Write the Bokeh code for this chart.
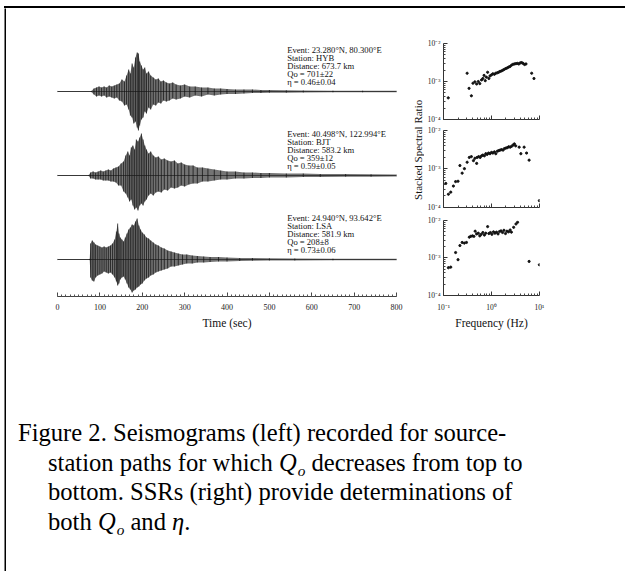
import math
from bokeh.plotting import figure
from bokeh.layouts import row, column
from bokeh.models import (Range1d, Div, Spacer, FixedTicker, CustomJSTickFormatter,
                          SingleIntervalTicker)
from bokeh.core.properties import value
from bokeh.embed import file_html
from bokeh.resources import INLINE

SERIF = "Liberation Serif"

# ---------------- data ----------------
time_ticks = [0, 100, 200, 300, 400, 500, 600, 700, 800]

stations = ["HYB", "BJT", "LSA"]
events = ["23.280°N, 80.300°E", "40.498°N, 122.994°E", "24.940°N, 93.642°E"]
distances = ["673.7", "583.2", "581.9"]
qo = ["701", "359", "208"]
qo_err = ["22", "12", "8"]
eta = ["0.46", "0.59", "0.73"]
eta_err = ["0.04", "0.05", "0.06"]

# seismogram envelopes (time in s, upper / lower amplitude, arbitrary units)
t1 = [0, 80, 86, 92, 98, 104, 110, 116, 122, 128, 134, 140, 146, 152, 158, 163, 168, 172, 176, 180,
      184, 188, 191, 194, 198, 202, 206, 210, 215, 220, 226, 232, 238, 244, 250, 257, 264, 272, 280,
      290, 300, 312, 325, 340, 355, 370, 385, 400, 420, 440, 460, 480, 500, 540, 580, 650, 720, 800]
up1 = [0.6, 0.6, 3, 4, 5, 4, 5, 4, 6, 5, 6, 7, 8, 12, 10, 16, 22, 18, 28, 24,
       34, 39, 38, 30, 26, 22, 24, 18, 20, 16, 14, 12, 13, 10, 11, 9, 8, 9, 7,
       6, 7, 5, 5, 4, 4, 3, 3, 2.5, 2, 2, 2, 1.5, 1.5, 1.2, 1, 0.8, 0.8, 0.7]
lo1 = [0.6, 0.6, 3, 5, 4, 5, 4, 6, 5, 6, 7, 6, 9, 10, 14, 13, 18, 24, 26, 32,
       30, 36, 39, 34, 28, 26, 20, 22, 16, 18, 13, 14, 11, 12, 9, 10, 9, 7, 8,
       7, 5, 6, 4, 5, 3, 4, 3, 2.5, 2.5, 2, 1.5, 1.5, 1.2, 1.2, 1, 0.8, 0.8, 0.7]

t2 = [0, 74, 78, 84, 90, 96, 102, 108, 114, 120, 126, 132, 138, 144, 150, 156, 161, 166, 170, 174,
      178, 182, 186, 190, 194, 198, 202, 206, 210, 215, 220, 226, 232, 238, 245, 252, 260, 268, 276,
      284, 292, 300, 310, 320, 330, 342, 355, 370, 385, 400, 420, 440, 460, 480, 500, 540, 580, 620,
      680, 740, 800]
up2 = [0.6, 0.6, 3, 4, 3, 4, 5, 4, 5, 6, 5, 7, 8, 9, 12, 14, 20, 24, 20, 28,
       30, 26, 36, 34, 38, 42, 36, 30, 26, 22, 24, 20, 18, 19, 16, 17, 15, 14, 15,
       12, 13, 11, 10, 10, 8, 8, 7, 6, 5, 4, 4, 3, 3, 2.5, 2.5, 2, 2, 1.5,
       1.5, 1.2, 1]
lo2 = [0.6, 0.6, 3, 3, 4, 4, 4, 5, 5, 5, 6, 6, 7, 10, 10, 16, 18, 22, 26, 24,
       30, 34, 32, 35, 30, 28, 30, 26, 24, 20, 18, 20, 17, 16, 17, 14, 15, 12, 13,
       12, 10, 11, 9, 8, 8, 6, 6, 5, 4, 4, 3, 3, 2.5, 2.5, 2, 2, 1.5, 1.5,
       1.2, 1.2, 1]

t3 = [0, 76, 78, 82, 86, 90, 95, 100, 105, 110, 115, 120, 125, 130, 135, 139, 142, 145, 148, 152,
      156, 160, 164, 168, 172, 176, 180, 184, 188, 192, 196, 200, 205, 210, 215, 220, 226, 232, 238,
      245, 252, 260, 268, 276, 285, 295, 305, 318, 330, 345, 360, 380, 400, 430, 460, 500, 560, 650, 800]
up3 = [0.6, 0.6, 16, 19, 17, 15, 14, 13, 12, 13, 12, 13, 14, 16, 20, 28, 36, 26, 22, 20,
       18, 22, 26, 30, 32, 35, 34, 38, 41, 34, 30, 27, 25, 22, 21, 19, 17, 15, 14,
       12, 11, 9, 8, 7, 6, 5, 5, 4, 3.5, 3, 2.5, 2.5, 2, 1.5, 1.5, 1.2, 1, 0.8, 0.7]
lo3 = [0.6, 0.6, 18, 21, 22, 18, 16, 15, 14, 12, 13, 14, 13, 15, 18, 22, 26, 24, 20, 18,
       17, 20, 24, 28, 30, 33, 31, 30, 28, 27, 25, 24, 21, 19, 18, 16, 15, 13, 12,
       11, 10, 9, 7, 7, 6, 5, 4, 4, 3, 3, 2.5, 2, 2, 1.5, 1.2, 1, 1, 0.8, 0.7]

# stacked spectral ratios (frequency in Hz, ratio)
f1 = [0.125, 0.31, 0.34, 0.38, 0.41, 0.45, 0.49, 0.53, 0.57, 0.62, 0.66, 0.70, 0.74, 0.78, 0.83,
      0.88, 0.93, 1.0, 1.07, 1.15, 1.23, 1.32, 1.41, 1.51, 1.62, 1.74, 1.86, 2.0, 2.14, 2.29, 2.45,
      2.63, 2.82, 3.02, 3.24, 3.47, 3.72, 3.98, 4.27, 4.57, 4.9, 5.25, 6.9, 7.7]
r1 = [3.7e-4, 1.65e-3, 6.6e-4, 4.2e-4, 9.0e-4, 9.8e-4, 8.6e-4, 1.0e-3, 8.8e-4, 1.1e-3, 1.2e-3,
      1.45e-3, 1.05e-3, 1.3e-3, 1.75e-3, 1.2e-3, 1.4e-3, 1.5e-3, 1.6e-3, 1.55e-3, 1.65e-3, 1.7e-3,
      1.75e-3, 1.85e-3, 1.9e-3, 2.0e-3, 2.1e-3, 2.2e-3, 2.3e-3, 2.4e-3, 2.5e-3, 2.7e-3, 2.85e-3,
      2.9e-3, 2.95e-3, 3.0e-3, 2.9e-3, 3.1e-3, 3.15e-3, 3.0e-3, 2.8e-3, 2.9e-3, 1.65e-3, 1.2e-3]

f2 = [0.111, 0.126, 0.141, 0.16, 0.178, 0.2, 0.219, 0.244, 0.272, 0.31, 0.344, 0.38, 0.42, 0.45,
      0.49, 0.5, 0.54, 0.58, 0.62, 0.66, 0.71, 0.76, 0.81, 0.87, 0.93, 1.0, 1.07, 1.15, 1.23, 1.32,
      1.41, 1.51, 1.62, 1.74, 1.86, 2.0, 2.14, 2.29, 2.45, 2.63, 2.82, 3.0, 3.2, 3.78, 4.1, 4.8,
      5.4, 6.1, 10.0]
r2 = [4.2e-4, 2.2e-4, 2.5e-4, 3.6e-4, 4.7e-4, 4.8e-4, 1.23e-3, 7.8e-4, 1.02e-3, 1.5e-3, 2.0e-3,
      2.1e-3, 1.65e-3, 1.9e-3, 1.4e-3, 2.0e-3, 2.1e-3, 2.0e-3, 2.2e-3, 2.3e-3, 2.2e-3, 2.5e-3,
      2.4e-3, 2.6e-3, 2.5e-3, 2.7e-3, 2.6e-3, 2.8e-3, 2.5e-3, 2.9e-3, 3.0e-3, 3.1e-3, 3.2e-3,
      3.1e-3, 3.4e-3, 3.5e-3, 3.6e-3, 3.8e-3, 3.7e-3, 3.9e-3, 4.2e-3, 4.5e-3, 4.0e-3, 3.7e-3,
      2.5e-3, 3.7e-3, 2.6e-3, 1.7e-3, 1.5e-4]

f3 = [0.126, 0.141, 0.178, 0.2, 0.219, 0.244, 0.27, 0.3, 0.344, 0.37, 0.40, 0.43, 0.456, 0.49,
      0.53, 0.57, 0.61, 0.66, 0.71, 0.76, 0.83, 0.88, 0.95, 1.02, 1.1, 1.18, 1.27, 1.37, 1.47, 1.58,
      1.7, 1.82, 1.96, 2.1, 2.27, 2.45, 2.6, 2.9, 3.24, 3.5, 6.1, 10.0]
r3 = [5.5e-4, 5.7e-4, 1.4e-3, 9e-4, 2.15e-3, 2.6e-3, 2.5e-3, 2.6e-3, 3.6e-3, 3.8e-3, 3.9e-3,
      3.8e-3, 5.2e-3, 4.4e-3, 4.6e-3, 3.9e-3, 4.3e-3, 4.8e-3, 4.1e-3, 4.6e-3, 6.9e-3, 4.5e-3,
      4.8e-3, 4.3e-3, 5.0e-3, 4.6e-3, 4.9e-3, 4.4e-3, 5.1e-3, 5.3e-3, 4.8e-3, 5.5e-3, 4.5e-3,
      5.2e-3, 5.0e-3, 5.6e-3, 4.9e-3, 6.6e-3, 8.1e-3, 9.0e-3, 8.1e-4, 6.6e-4]

# ---------------- seismograms ----------------
seis = figure(width=398, height=330, x_range=Range1d(0, 800), y_range=Range1d(-205, 83),
              y_axis_location=None, output_backend="svg", toolbar_location=None,
              min_border_left=51, min_border_right=8, min_border_top=0, min_border_bottom=42)
seis.outline_line_color = None
seis.grid.visible = False

offsets = [0, -84, -168]
traces = [(t1, up1, lo1), (t2, up2, lo2), (t3, up3, lo3)]
for off, (t, up, lo) in zip(offsets, traces):
    top = [off + u for u in up]
    bot = [off - l for l in lo]
    seis.line(t, [off] * len(t), line_color="#555", line_width=1)
    seis.varea(x=t, y1=top, y2=bot, fill_color="#2a2a2a", fill_alpha=0.65)
    seis.segment(x0=t, y0=top, x1=t, y1=bot, line_color="black", line_width=0.8, line_alpha=0.8)

for i, off in enumerate(offsets):
    lines = ["Event: " + events[i], "Station: " + stations[i], "Distance: " + distances[i] + " km",
             "Qo = " + qo[i] + "±" + qo_err[i], "η = " + eta[i] + "±" + eta_err[i]]
    seis.text(x=[542] * 5, y=[off + 42, off + 34, off + 26, off + 18, off + 10], text=lines,
              text_font=value(SERIF), text_font_size="8.6px", text_baseline="middle",
              text_align="left", text_color="#111")

ax = seis.xaxis[0]
ax.ticker = SingleIntervalTicker(interval=100, num_minor_ticks=10)
ax.major_label_overrides = {v: str(v) for v in time_ticks}
ax.major_tick_in = 4
ax.major_tick_out = 0
ax.minor_tick_in = 2
ax.minor_tick_out = 0
ax.axis_line_color = "#444"
ax.major_tick_line_color = "#444"
ax.minor_tick_line_color = "#555"
ax.major_label_text_font = SERIF
ax.major_label_text_font_size = "8px"
ax.major_label_text_color = "#222"
ax.major_label_standoff = 7
ax.axis_label = "Time (sec)"
ax.axis_label_text_font = SERIF
ax.axis_label_text_font_size = "11.5px"
ax.axis_label_text_font_style = "normal"
ax.axis_label_text_color = "#111"
ax.axis_label_standoff = 4

# ---------------- shared y label of the spectral-ratio panels ----------------
lab = figure(width=20, height=330, x_range=Range1d(0, 20), y_range=Range1d(0, 330),
             x_axis_location=None, y_axis_location=None, output_backend="svg",
             toolbar_location=None, min_border=0)
lab.outline_line_color = None
lab.grid.visible = False
lab.text(x=[13], y=[168], text=["Stacked Spectral Ratio"], angle=math.pi / 2,
         text_align="center", text_baseline="middle", text_font=value(SERIF),
         text_font_size="11px", text_color="#111")

# ---------------- spectral ratio panels ----------------
SUP = CustomJSTickFormatter(code="""
const e = Math.round(Math.log10(tick));
const m = {"-": "\\u207b", "0": "\\u2070", "1": "\\u00b9", "2": "\\u00b2", "3": "\\u00b3", "4": "\\u2074"};
return "10" + String(e).split("").map(c => m[c]).join("");
""")
BLANK = CustomJSTickFormatter(code="return '';")


def ssr_panel(height, top, bottom, f, r, show_x):
    p = figure(width=201, height=height, x_axis_type="log", y_axis_type="log",
               x_range=Range1d(0.0995, 10.05), y_range=Range1d(0.995e-4, 1.005e-2),
               output_backend="svg", toolbar_location=None,
               min_border_left=17, min_border_right=86, min_border_top=top, min_border_bottom=bottom)
    p.outline_line_color = None
    p.grid.visible = False
    p.scatter(f, r, size=2.2, color="#111")
    xa = p.xaxis[0]
    xa.ticker = FixedTicker(ticks=[0.1, 1, 10],
                            minor_ticks=[m * 10 ** e for e in (-1, 0) for m in range(2, 10)])
    ya = p.yaxis[0]
    ya.ticker = FixedTicker(ticks=[1e-4, 1e-3, 1e-2],
                            minor_ticks=[m * 10 ** e for e in (-4, -3) for m in range(2, 10)])
    for a in (xa, ya):
        a.major_tick_in = 4
        a.major_tick_out = 0
        a.minor_tick_in = 2
        a.minor_tick_out = 0
        a.axis_line_color = "#333"
        a.major_tick_line_color = "#333"
        a.minor_tick_line_color = "#444"
        a.major_label_text_font = SERIF
        a.major_label_text_font_size = "7.5px"
        a.major_label_text_color = "#222"
    ya.formatter = SUP
    ya.major_label_standoff = 3
    if show_x:
        xa.formatter = SUP
        xa.major_label_standoff = 7
        xa.axis_label = "Frequency (Hz)"
        xa.axis_label_text_font = SERIF
        xa.axis_label_text_font_size = "11.5px"
        xa.axis_label_text_font_style = "normal"
        xa.axis_label_text_color = "#111"
        xa.axis_label_standoff = 2
    else:
        xa.formatter = BLANK
        xa.major_label_text_font_size = "0px"
        xa.major_label_standoff = 0
    return p


s1 = ssr_panel(116, 35, 5, f1, r1, False)
s2 = ssr_panel(89, 6, 6, f2, r2, False)
s3 = ssr_panel(125, 7, 43, f3, r3, True)
ssr = column(s1, s2, s3, spacing=0)

# ---------------- caption ----------------
QO = '<i>Q<sub style="font-size:0.62em;line-height:0;margin-left:1px;">o</sub></i>'
caption_html = (
    '<div style="font-family:\'Liberation Serif\',\'Times New Roman\',serif;font-size:24.6px;'
    'line-height:29.5px;color:#000;padding:80px 0 0 42px;text-indent:-30px;white-space:nowrap;">'
    'Figure 2. Seismograms (left) recorded for source-<br>'
    'station paths for which ' + QO + ' decreases from top to<br>'
    'bottom. SSRs (right) provide determinations of<br>'
    'both ' + QO + ' and <i>&eta;</i>.</div>'
)
caption = Div(text=caption_html, width=619, height=233, margin=0,
              styles={"overflow": "hidden", "background-color": "white"})

# ---------------- border of the figure box (top and left edges) ----------------
top_line = Spacer(width=621, height=2, margin=0, styles={"background-color": "black"})

left_line = figure(width=2, height=563, x_axis_location=None, y_axis_location=None,
                   output_backend="svg", toolbar_location=None, min_border=0,
                   background_fill_color="black", border_fill_color="black")
left_line.outline_line_color = None
left_line.grid.visible = False

content = column(row(seis, lab, ssr, spacing=0), caption, spacing=0,
                 styles={"background-color": "white"})
root = column(Spacer(width=625, height=6, margin=0),
              row(Spacer(width=4, height=2, margin=0), top_line, spacing=0),
              row(Spacer(width=4, height=563, margin=0), left_line, content, spacing=0),
              spacing=0)

open("out.html", "w").write(file_html(root, INLINE))
